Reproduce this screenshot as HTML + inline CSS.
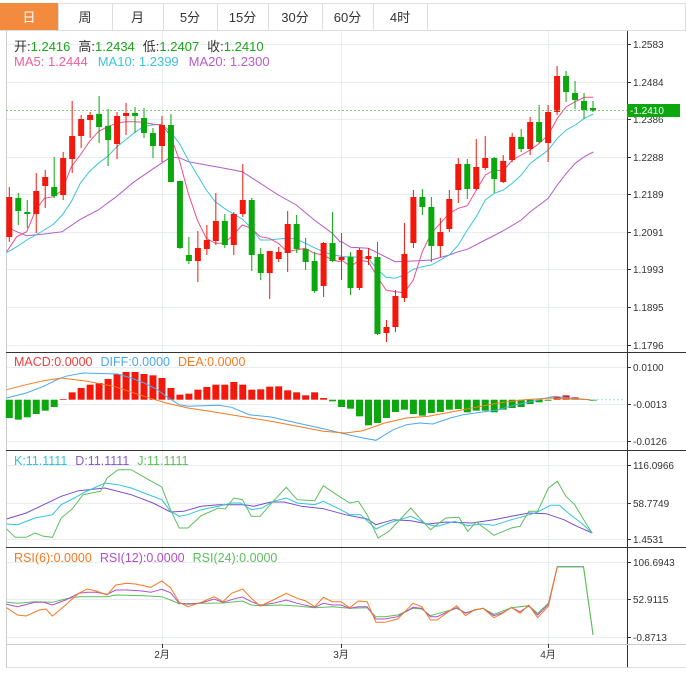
<!DOCTYPE html>
<html><head><meta charset="utf-8">
<style>
body{margin:0;background:#fff;width:686px;height:679px;overflow:hidden;font-family:"Liberation Sans","Noto Sans CJK SC",sans-serif;}
svg text{font-family:"Liberation Sans","Noto Sans CJK SC",sans-serif;}
</style></head><body>
<svg id="s" width="686" height="679" xmlns="http://www.w3.org/2000/svg"></svg>
<script>
const S=document.getElementById('s');let h='';
function L(x1,y1,x2,y2,c,w,d){h+=`<line x1="${x1}" y1="${y1}" x2="${x2}" y2="${y2}" stroke="${c}" stroke-width="${w||1}" ${d?`stroke-dasharray="${d}"`:''}/>`;}
function R(x,y,w,hh,c,st){h+=`<rect x="${x}" y="${y}" width="${w}" height="${hh}" fill="${c}" ${st?`stroke="${st}"`:''}/>`;}
function T(x,y,t,c,sz,a){h+=`<text x="${x}" y="${y}" fill="${c}" font-size="${sz||12}" ${a?`text-anchor="${a}"`:''}>${t}</text>`;}
function P(pts,c,w){h+=`<polyline fill="none" stroke="${c}" stroke-width="${w||1}" points="${pts.map(p=>p[0].toFixed(1)+','+p[1].toFixed(1)).join(' ')}"/>`;}
const tabs=[[0,58,'日'],[58,112,'周'],[112,163,'月'],[163,217,'5分'],[217,268,'15分'],[268,322,'30分'],[322,373,'60分'],[373,427,'4时']];
R(0.5,3.5,685,27,'#fff','#ddd');
tabs.forEach(t=>{if(t[0]==0)R(0,3,58,27,'#f28b3e');else L(t[0]+.5,3,t[0]+.5,30,'#ddd');T((t[0]+t[1])/2,22,t[2],t[0]==0?'#fff':'#333',13,'middle');});
L(427.5,3,427.5,30,'#ddd');
const G='#e6ecf0';
[44,82,119,157,194,232,269,307,345,367,404,441,465,503,539,562,599,637].forEach(y=>L(6,y+.5,627,y+.5,G));
[162,341,548].forEach(x=>L(x+.5,31,x+.5,644,G));
L(6.5,31,6.5,667,'#ccc');L(627.5,31,627.5,667,'#333');
[352,450,547].forEach(y=>L(6,y+.5,686,y+.5,'#333'));
L(6,644.5,686,644.5,'#ccc');L(6,667.5,686,667.5,'#ddd');
[['1.2583',44],['1.2484',82],['1.2386',119],['1.2288',157],['1.2189',194],['1.2091',232],['1.1993',269],['1.1895',307],['1.1796',345],['0.0100',367],['-0.0013',404],['-0.0126',441],['116.0966',465],['58.7749',503],['1.4531',539],['106.6943',562],['52.9115',599],['-0.8713',637]].forEach(l=>{L(627,l[1]+.5,631,l[1]+.5,'#333');T(633,l[1]+4,l[0],'#333',10);});
const C=[[197,237,187,242,'r'],[198,211,193,225,'g'],[212,214,200,228,'g'],[191,214,173,233,'r'],[177,186,170,208,'r'],[187,196,157,198,'g'],[158,195,152,200,'r'],[136,159,101,173,'r'],[119,136,115,148,'r'],[115,120,112,138,'r'],[114,127,96,143,'g'],[126,140,109,166,'g'],[116,144,112,159,'r'],[113,116,103,135,'r'],[113,116,107,133,'g'],[118,133,108,138,'g'],[133,146,128,158,'g'],[125,146,116,162,'r'],[125,182,114,182,'g'],[181,248,181,249,'g'],[255,261,237,264,'g'],[248,261,231,282,'r'],[240,249,225,255,'r'],[221,241,193,245,'r'],[221,245,214,248,'g'],[214,245,212,255,'r'],[200,214,164,217,'r'],[200,255,198,271,'g'],[254,273,248,280,'g'],[251,273,251,299,'r'],[252,259,247,262,'r'],[224,253,211,272,'r'],[224,249,215,253,'g'],[249,262,238,270,'g'],[261,291,252,293,'g'],[243,286,242,297,'r'],[243,261,212,262,'g'],[257,260,233,280,'r'],[257,288,252,295,'g'],[250,288,248,290,'r'],[256,259,248,265,'r'],[257,334,242,335,'g'],[327,333,320,342,'r'],[296,327,290,332,'r'],[254,298,223,302,'r'],[197,243,190,248,'r'],[197,207,189,215,'g'],[207,246,197,262,'g'],[232,246,218,257,'r'],[199,229,190,232,'r'],[164,190,158,203,'r'],[164,189,159,199,'g'],[167,189,139,190,'r'],[158,168,136,170,'r'],[158,179,157,193,'g'],[161,182,155,183,'r'],[137,160,133,162,'r'],[137,149,129,152,'g'],[122,149,117,155,'r'],[122,142,105,143,'g'],[112,143,105,162,'r'],[76,112,66,115,'r'],[76,92,71,102,'g'],[93,100,81,109,'g'],[101,110,93,119,'g'],[108,111,101,112,'g']];
const X=i=>9.3+i*8.98;
const RC='#f2180c',GC='#0aa80c';
const m=(a,ox)=>a.map(p=>[p[0]/3+ox,60+p[1]/3]);
P(m([[20,500],[50,515],[80,527],[133,522],[187,515],[241,478],[295,450],[349,410],[403,365],[457,328],[511,292],[538,293],[565,305],[619,315],[673,325],[727,335],[781,370],[835,405],[889,435],[943,480],[997,520],[1020,545]],0).concat(m([[5,545],[32,562],[85,565],[112,578],[165,605],[220,603],[274,600],[328,585],[355,575],[382,568],[436,540],[490,512],[544,480],[571,455],[625,415],[652,375],[679,340],[706,310],[733,290],[760,276]],340)),'#b45ac8');
P(m([[20,578],[50,560],[80,540],[107,525],[133,510],[160,493],[187,465],[214,425],[241,370],[268,335],[295,310],[322,290],[349,262],[376,240],[403,218],[430,200],[457,195],[484,193],[511,215],[538,250],[565,300],[592,345],[619,390],[646,425],[673,445],[700,462],[727,477],[754,505],[781,540],[808,540],[835,537],[862,535],[889,537],[916,550],[943,563],[970,575],[997,585],[1020,588]],0).concat(m([[5,590],[32,590],[58,592],[85,595],[112,628],[138,652],[165,655],[193,645],[220,628],[247,620],[274,615],[301,600],[328,585],[355,555],[382,510],[409,470],[436,420],[463,400],[490,390],[517,370],[544,345],[571,310],[598,290],[625,270],[652,235],[679,210],[706,195],[733,175],[760,162]],340)),'#38c6de');
P(m([[20,575],[50,530],[80,515],[107,450],[133,415],[160,410],[187,390],[214,320],[241,285],[268,245],[295,215],[322,200],[349,190],[376,185],[403,185],[430,187],[457,192],[484,195],[511,225],[538,300],[565,400],[592,480],[619,535],[646,550],[673,550],[700,525],[727,495],[754,505],[781,530],[808,535],[835,550],[862,575],[889,570],[916,565],[943,580],[970,585],[997,600],[1020,605]],0).concat(m([[5,600],[32,620],[58,600],[85,605],[112,650],[138,690],[165,695],[193,698],[220,660],[247,575],[274,520],[301,490],[328,460],[355,445],[382,437],[409,390],[436,345],[463,330],[490,332],[517,300],[544,285],[571,270],[598,250],[625,225],[652,175],[679,140],[706,125],[733,112],[760,112]],340)),'#f0508a');
C.forEach((c,i)=>{const x=X(i),col=c[4]=='r'?RC:GC;L(x,c[2],x,c[3],col,1);R(x-3,c[0],6,Math.max(1.5,c[1]-c[0]),col);});
L(6,110.5,627,110.5,'#7cc77c',1,'2,2');
R(627,104,53,13,'#0aa80c');T(630,114,'-1.2410','#fff',10);
h+=`<text x="14" y="51" font-size="13"><tspan fill="#333">开:</tspan><tspan fill="#19a519">1.2416</tspan><tspan fill="#333" dx="8">高:</tspan><tspan fill="#19a519">1.2434</tspan><tspan fill="#333" dx="8">低:</tspan><tspan fill="#19a519">1.2407</tspan><tspan fill="#333" dx="8">收:</tspan><tspan fill="#19a519">1.2410</tspan></text>`;
h+=`<text x="14" y="66" font-size="13"><tspan fill="#f0609a">MA5: 1.2444</tspan><tspan fill="#3cc4dc" dx="10">MA10: 1.2399</tspan><tspan fill="#b85cc8" dx="10">MA20: 1.2300</tspan></text>`;
const hist=[210,215,208,198,188,177,153,133,120,110,105,93,78,72,72,78,82,90,120,140,137,125,117,110,110,102,110,125,124,116,115,127,133,142,133,150,160,177,182,205,232,225,210,192,185,198,203,195,192,185,183,193,188,188,193,185,180,177,168,163,158,147,142,148,154,155];
hist.forEach((v,i)=>{const y=348+v/3,b=399.7,x=X(i);if(v<155)R(x-3.5,y,7,b-y,RC);else R(x-3.5,b,7,Math.max(1,y-b),GC);});
const z=(a,oy)=>a.map(p=>[p[0]/2.288,oy+p[1]/3]);
P(z([[15,150],[60,135],[100,115],[130,95],[150,85],[190,75],[270,78],[300,90],[330,105],[360,125],[380,145],[410,170],[430,175],[500,172],[530,178],[570,200],[620,207],[680,225],[740,242],[780,255],[830,270],[860,277],[900,245],[930,230],[960,225],[990,228],[1030,210],[1060,200],[1100,193],[1140,185],[1180,170],[1220,160],[1250,150],[1270,145],[1300,150],[1350,155]],348),'#4aa8f0');
P(z([[15,125],[60,110],[100,98],[140,90],[200,100],[260,115],[330,145],[380,165],[430,180],[480,190],[560,207],[620,220],[680,235],[740,250],[790,255],[830,248],[880,225],[930,210],[980,205],[1020,195],[1080,180],[1140,165],[1200,155],[1260,150],[1350,155]],348),'#f57a20');
L(593,399.7,625,399.7,'#9ad8f0',1,'2,2');
h+=`<text x="14" y="366" font-size="12.5"><tspan fill="#f03c3c">MACD:0.0000</tspan><tspan fill="#4aa8f0" dx="8">DIFF:0.0000</tspan><tspan fill="#f57a20" dx="8">DEA:0.0000</tspan></text>`;
P(z([[15,213],[60,195],[100,170],[140,145],[180,128],[240,120],[300,140],[350,165],[390,192],[420,190],[460,175],[500,170],[560,170],[580,175],[620,162],[650,162],[690,175],[740,182],[790,200],[840,213],[860,230],[900,215],[940,218],[980,228],[1020,222],[1080,225],[1130,215],[1170,205],[1210,195],[1250,197],[1290,215],[1320,235],[1355,255]],448),'#7a4cd0');
P(z([[15,228],[40,230],[80,210],[120,200],[140,170],[170,150],[190,135],[240,105],[270,110],[300,120],[330,135],[370,155],[390,190],[410,205],[430,200],[460,185],[500,175],[530,165],[550,165],[575,185],[600,180],[625,160],[655,150],[680,165],[720,170],[740,160],[780,185],[800,200],[825,200],[860,243],[890,225],[940,205],[980,230],[1000,235],[1040,220],[1070,233],[1100,228],[1130,232],[1170,215],[1200,205],[1230,192],[1260,172],[1280,172],[1300,195],[1330,225],[1355,255]],448),'#30c4dc');
P(z([[15,243],[35,268],[60,268],[80,255],[100,265],[120,268],[140,210],[165,183],[190,140],[230,130],[245,90],[270,65],[300,65],[320,80],[340,95],[370,117],[390,185],[410,240],[430,240],[460,203],[500,180],[515,183],[535,150],[555,155],[575,205],[595,205],[625,160],[655,118],[680,155],[720,158],[740,113],[770,140],[800,165],[820,160],[840,200],[865,270],[890,250],[940,180],[960,210],[985,245],[1020,210],[1050,208],[1070,250],[1090,222],[1130,262],[1170,240],[1190,235],[1210,190],[1230,190],[1255,120],[1275,100],[1295,145],[1315,170],[1340,225],[1355,255]],448),'#5cbf5c');
h+=`<text x="14" y="465" font-size="12.5"><tspan fill="#30c4dc">K:11.1111</tspan><tspan fill="#8a5cd0" dx="8">D:11.1111</tspan><tspan fill="#5cbf5c" dx="8">J:11.1111</tspan></text>`;
P(z([[15,172],[40,175],[80,170],[120,172],[150,162],[180,155],[245,155],[265,150],[330,152],[370,155],[390,165],[410,176],[460,175],[510,174],[555,168],[575,180],[595,182],[640,180],[680,183],[720,188],[760,185],[800,190],[840,188],[860,215],[880,215],[910,210],[945,190],[965,192],[985,212],[1045,190],[1065,203],[1105,190],[1130,208],[1170,188],[1210,182],[1230,205],[1255,175],[1275,65],[1335,65],[1357,270]],545),'#5cbf5c');
P(z([[15,178],[40,185],[80,172],[100,172],[120,180],[150,165],[180,145],[200,142],[220,142],[245,148],[265,135],[290,135],[320,137],[345,142],[370,133],[390,143],[410,175],[430,178],[460,174],[490,162],[510,172],[540,160],[555,156],[575,170],[595,180],[625,175],[655,165],[680,175],[720,187],[740,175],[760,180],[780,180],[800,190],[820,185],[840,185],[860,222],[880,222],[910,215],[945,187],[965,190],[985,215],[1000,215],[1045,188],[1065,205],[1085,195],[1105,190],[1130,212],[1150,203],[1170,188],[1190,200],[1210,183],[1230,210],[1255,178],[1275,65],[1335,65]],545),'#b050c8');
P(z([[15,188],[40,210],[60,213],[90,195],[105,192],[120,213],[150,180],[180,145],[200,132],[220,138],[245,150],[265,120],[290,115],[310,117],[345,127],[370,108],[390,128],[410,172],[430,185],[460,172],[490,155],[510,170],[530,145],[555,132],[575,160],[595,183],[625,165],[655,145],[680,160],[700,168],[720,185],[740,157],[760,170],[780,170],[800,188],[820,168],[840,170],[860,232],[880,232],[910,222],[945,175],[965,185],[985,225],[1000,225],[1045,182],[1065,212],[1085,195],[1105,190],[1130,218],[1150,205],[1170,187],[1190,205],[1210,180],[1230,218],[1255,183],[1275,65]],545),'#f57a20');
P(z([[1275,65],[1335,65],[1357,270]],545),'#5cbf5c');
h+=`<text x="14" y="562" font-size="12.5"><tspan fill="#f57a20">RSI(6):0.0000</tspan><tspan fill="#b050c8" dx="8">RSI(12):0.0000</tspan><tspan fill="#5cbf5c" dx="8">RSI(24):0.0000</tspan></text>`;
[[162,'2月'],[341,'3月'],[548,'4月']].forEach(d=>{L(d[0]+.5,644,d[0]+.5,648,'#333');T(d[0],658,d[1],'#333',10,'middle');});
S.innerHTML=h;
</script>
</body></html>
